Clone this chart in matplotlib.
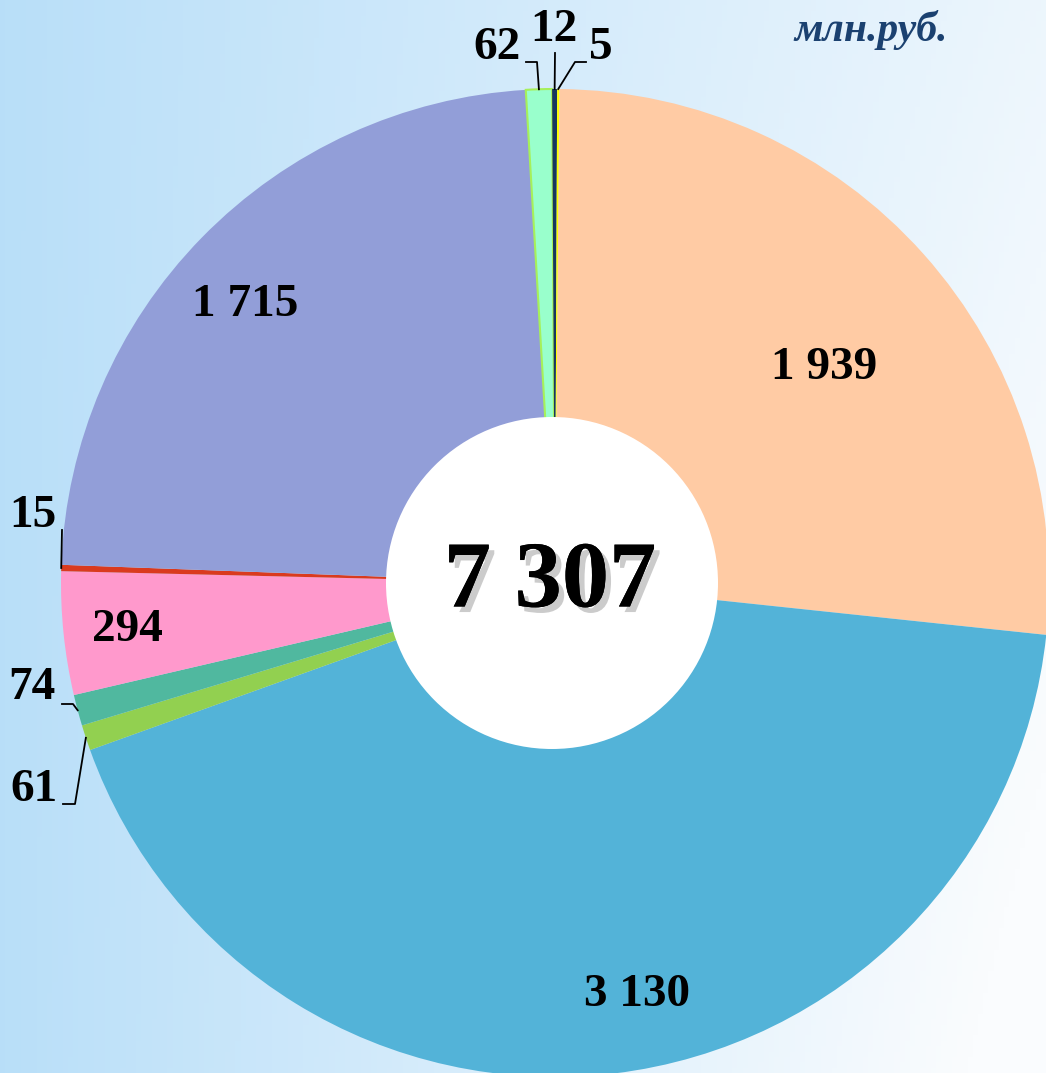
import numpy as np
import matplotlib.pyplot as plt
import matplotlib.patheffects as pe
from matplotlib.patches import Circle

# данные (млн.руб.), по часовой стрелке от 12 часов
values = [1939, 3130, 61, 74, 294, 15, 1715, 62, 12, 5]
labels = ['1 939', '3 130', '61', '74', '294', '15', '1 715', '62', '12', '5']
colors = ['#FFCBA4', '#53B3D8', '#92D050', '#50B89F', '#FF99CC',
          '#DA3A1E', '#929ED8', '#99FFCC', '#17375E', '#FFFF00']
total_label = '7 307'
unit_label = 'млн.руб.'

W, H = 1046, 1073
CX, CY, R = 555, 583, 494   # центр и радиус в пикселях
R_IN = 166


def py(y):
    # пиксельная координата y -> координата осей
    return H - y


fig = plt.figure(figsize=(W / 100, H / 100), dpi=100)
ax = fig.add_axes([0, 0, 1, 1])

# фон: градиент от голубого слева к белому справа
xx, yy = np.meshgrid(np.linspace(0, 1, 200), np.linspace(0, 1, 200))
t = np.clip(0.12 + 0.7 * xx + 0.25 * xx * yy, 0, 1)
c0 = np.array([176, 219, 248]) / 255
c1 = np.array([250, 252, 254]) / 255
bg = c0 + (c1 - c0) * t[..., None]
ax.imshow(bg, extent=(0, W, 0, H), origin='upper', aspect='auto', zorder=0)

wedges, _ = ax.pie(values, colors=colors, startangle=89.5, counterclock=False,
                   radius=R, center=(CX, py(CY)),
                   wedgeprops=dict(linewidth=0))
for w in wedges:
    w.set_zorder(2)
wedges[7].set_edgecolor('#A6F05A')
wedges[7].set_linewidth(1.5)

ax.add_patch(Circle((CX - 3, py(CY)), R_IN, facecolor='white', edgecolor='none', zorder=3))

font = 'Liberation Serif'

# подписи внутри секторов
inner_pos = {0: (824, 368), 1: (637, 995), 4: (127, 630), 6: (245, 305)}
for i, (x, y) in inner_pos.items():
    ax.text(x, py(y), labels[i], ha='center', va='center', fontsize=34,
            fontweight='bold', family=font, zorder=5)

# подписи мелких секторов с выносками
outer = {
    7: ((497, 48), [(526, 62), (537, 62)]),
    8: ((554, 30), [(555, 53)]),
    9: ((601, 48), [(586, 62), (575, 62)]),
    5: ((33, 516), [(62, 530)]),
    3: ((32, 688), [(62, 704), (73, 704)]),
    2: ((34, 790), [(63, 804), (75, 804)]),
}
for i, ((tx, ty), pts) in outer.items():
    w = wedges[i]
    a = np.deg2rad((w.theta1 + w.theta2) / 2)
    ax_, ay_ = CX + R * np.cos(a), py(CY) + R * np.sin(a)
    xs = [p[0] for p in pts] + [ax_]
    ys = [py(p[1]) for p in pts] + [ay_]
    ax.plot(xs, ys, color='black', lw=1.3, zorder=4)
    ax.text(tx, py(ty), labels[i], ha='center', va='center', fontsize=34,
            fontweight='bold', family=font, zorder=5)

# итог в центре
ax.text(550, py(584), total_label, ha='center', va='center', fontsize=68,
        fontweight='bold', family=font, zorder=6,
        path_effects=[pe.withSimplePatchShadow(offset=(4, -4), shadow_rgbFace='#555555', alpha=0.3),
                      pe.Normal()])

ax.text(871, py(30), unit_label, ha='center', va='center', fontsize=30,
        fontweight='bold', fontstyle='italic', family=font, color='#1B4170', zorder=5)

ax.set_xlim(0, W)
ax.set_ylim(0, H)
ax.set_aspect('auto')
ax.axis('off')

fig.savefig('out.png', dpi=100)
